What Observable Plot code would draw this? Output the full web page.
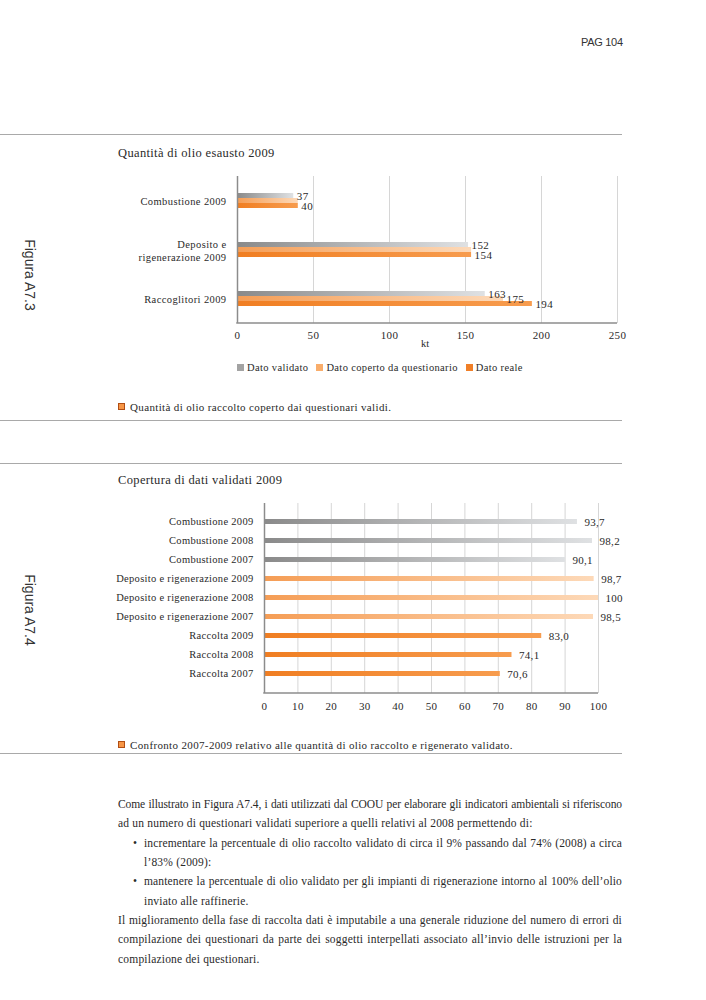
<!DOCTYPE html>
<html><head><meta charset="utf-8">
<script src="https://cdn.jsdelivr.net/npm/d3@7"></script>
<script src="https://cdn.jsdelivr.net/npm/@observablehq/plot@0.6"></script>
<style>
body{margin:0;background:#fff;}
#page{position:relative;width:706px;height:1000px;overflow:hidden;font-family:"Liberation Serif","Times New Roman",serif;color:#2a2a2a;}
.abs{position:absolute;white-space:nowrap;}
.hr{position:absolute;left:0;width:622px;height:0;border-top:1.5px solid #a9a9a9;}
.side{position:absolute;font-family:"Liberation Sans",Arial,sans-serif;font-size:14px;color:#333;transform:translate(-50%,-50%) rotate(90deg);white-space:nowrap;}
.title{font-size:12.5px;letter-spacing:0.35px;}
.cap{font-size:11px;letter-spacing:0.35px;}
.capsq{display:inline-block;width:5px;height:5px;background:#f79646;border:1px solid #b14e14;margin-right:5px;vertical-align:1px;}
.legend{font-size:10.5px;letter-spacing:0.35px;display:flex;gap:8px;align-items:center;}
.legend span.sq{display:inline-block;width:7px;height:7px;margin-right:3px;vertical-align:0px;}
.body{font-size:11.5px;line-height:19.4px;}
.line{position:absolute;white-space:nowrap;}
.chart{position:absolute;left:0;}
</style>
</head><body>
<svg width="0" height="0" style="position:absolute">
<defs>
<linearGradient id="gGrey" x1="0" x2="1" y1="0" y2="0"><stop offset="0" stop-color="#8a8a8a"/><stop offset="1" stop-color="#dfe1e3"/></linearGradient>
<linearGradient id="gLight" x1="0" x2="1" y1="0" y2="0"><stop offset="0" stop-color="#f59d55"/><stop offset="1" stop-color="#fdd9b8"/></linearGradient>
<linearGradient id="gDark" x1="0" x2="1" y1="0" y2="0"><stop offset="0" stop-color="#f07e22"/><stop offset="1" stop-color="#f79c4e"/></linearGradient>
</defs>
</svg>
<div id="page">
  <div class="abs" style="left:581px;top:36px;font-family:'Liberation Sans',Arial,sans-serif;font-size:11px;color:#333;letter-spacing:-0.3px;">PAG 104</div>
  <div class="hr" style="top:134px"></div>
  <div class="side" style="left:30px;top:275px">Figura A7.3</div>
  <div class="abs title" style="left:118px;top:146px">Quantità di olio esausto 2009</div>
  <div id="chart1" class="chart" style="top:165px"></div>
  <div class="abs" style="left:421px;top:338px;font-size:10.5px;">kt</div>
  <div id="legend1" class="abs legend" style="left:237px;top:362px"></div>
  <div class="abs cap" style="left:118px;top:401px"><span class="capsq"></span>Quantità di olio raccolto coperto dai questionari validi.</div>
  <div class="hr" style="top:420px"></div>

  <div class="hr" style="top:463px"></div>
  <div class="side" style="left:30px;top:610px">Figura A7.4</div>
  <div class="abs title" style="left:118px;top:473px">Copertura di dati validati 2009</div>
  <div id="chart2" class="chart" style="top:495px"></div>
  <div class="abs cap" style="left:118px;top:739px"><span class="capsq"></span>Confronto 2007-2009 relativo alle quantità di olio raccolto e rigenerato validato.</div>
  <div class="hr" style="top:753px"></div>

  <div id="bodytext" class="body"></div>
</div>
<script>
// ---------- Chart 1 data ----------
const categories1 = ["Combustione 2009", "Deposito e rigenerazione 2009", "Raccoglitori 2009"];
const categoryLabels1 = ["Combustione 2009", "Deposito e\nrigenerazione 2009", "Raccoglitori 2009"];
const series1 = ["Dato validato", "Dato coperto da questionario", "Dato reale"];
const datoValidato = [37, 152, 163];
const datoQuestionario = [40, 154, 175];
const datoReale = [40, 154, 194];
const ticks1 = [0, 50, 100, 150, 200, 250];
const legendSwatches1 = ["#a3a3a3", "#f9ad6b", "#f07f28"];

// ---------- Chart 2 data ----------
const categories2 = ["Combustione 2009", "Combustione 2008", "Combustione 2007",
  "Deposito e rigenerazione 2009", "Deposito e rigenerazione 2008", "Deposito e rigenerazione 2007",
  "Raccolta 2009", "Raccolta 2008", "Raccolta 2007"];
const groups2 = ["Combustione", "Combustione", "Combustione", "Deposito", "Deposito", "Deposito", "Raccolta", "Raccolta", "Raccolta"];
const values2 = [93.7, 98.2, 90.1, 98.7, 100, 98.5, 83.0, 74.1, 70.6];
const valueLabels2 = ["93,7", "98,2", "90,1", "98,7", "100", "98,5", "83,0", "74,1", "70,6"];
const ticks2 = [0, 10, 20, 30, 40, 50, 60, 70, 80, 90, 100];

const gradients = ["url(#gGrey)", "url(#gLight)", "url(#gDark)"];

// ---------- Chart 1 ----------
const seriesValues1 = [datoValidato, datoQuestionario, datoReale];
const data1 = categories1.flatMap((c, i) => series1.map((s, j) => ({category: c, series: s, value: seriesValues1[j][i]})));
const labels1 = data1.filter(d => !(d.series === series1[1] && d.value === datoReale[categories1.indexOf(d.category)]));
const labelMap1 = new Map(categories1.map((c, i) => [c, categoryLabels1[i]]));

const H1 = 190, MB1 = 32;
const plot1 = Plot.plot({
  width: 706, height: H1,
  marginLeft: 237, marginRight: 89, marginTop: 10, marginBottom: MB1,
  style: {fontFamily: "'Liberation Serif', 'Times New Roman', serif", fontSize: "10.5px", color: "#2a2a2a", background: "transparent", letterSpacing: "0.4px"},
  x: {domain: [0, 250]},
  y: {domain: series1, axis: null, paddingInner: 0, paddingOuter: 2.85},
  fy: {domain: categories1, padding: 0},
  color: {domain: series1, range: gradients},
  marks: [
    Plot.gridX(ticks1, {stroke: "#d6d6d6", strokeOpacity: 1}),
    Plot.barX(data1, {x: "value", y: "series", fy: "category", fill: "series"}),
    Plot.text(labels1, {x: "value", y: "series", fy: "category", text: d => String(d.value), textAnchor: "start", dx: 3, fill: "#2a2a2a", fontSize: 11}),
    Plot.ruleX([0], {stroke: "#8c8c8c", strokeWidth: 1.5}),
    Plot.axisX({ticks: ticks1, tickSize: 0, tickPadding: 8, label: null, fontSize: 11}),
    Plot.axisFy({anchor: "left", tickSize: 0, tickPadding: 11, label: null, tickFormat: d => labelMap1.get(d), lineHeight: 1.25})
  ]
});
{
  const x = plot1.scale("x");
  d3.select(plot1).append("line")
    .attr("x1", x.apply(0) - 0.75).attr("x2", x.apply(250))
    .attr("y1", H1 - MB1).attr("y2", H1 - MB1)
    .attr("stroke", "#8c8c8c").attr("stroke-width", 1.5);
}
document.getElementById("chart1").append(plot1);

// legend 1
const lg = d3.select("#legend1");
series1.forEach((s, i) => {
  const item = lg.append("div");
  item.append("span").attr("class", "sq").style("background", legendSwatches1[i]);
  item.append("span").text(s);
});

// ---------- Chart 2 ----------
const data2 = categories2.map((c, i) => ({category: c, group: groups2[i], value: values2[i], label: valueLabels2[i]}));
const H2 = 223, MB2 = 25;
const plot2 = Plot.plot({
  width: 706, height: H2,
  marginLeft: 264, marginRight: 108, marginTop: 8, marginBottom: MB2,
  style: {fontFamily: "'Liberation Serif', 'Times New Roman', serif", fontSize: "10.5px", color: "#2a2a2a", background: "transparent", letterSpacing: "0.3px"},
  x: {domain: [0, 100]},
  y: {domain: categories2, padding: 0.72},
  color: {domain: ["Combustione", "Deposito", "Raccolta"], range: gradients},
  marks: [
    Plot.gridX(ticks2, {stroke: "#d6d6d6", strokeOpacity: 1}),
    Plot.barX(data2, {x: "value", y: "category", fill: "group"}),
    Plot.text(data2, {x: "value", y: "category", text: "label", textAnchor: "start", dx: 7, fill: "#2a2a2a", fontSize: 11}),
    Plot.ruleX([0], {stroke: "#8c8c8c", strokeWidth: 1.5}),
    Plot.axisX({ticks: ticks2, tickSize: 0, tickPadding: 9, label: null, fontSize: 11}),
    Plot.axisY({tickSize: 0, tickPadding: 11, label: null})
  ]
});
{
  const x = plot2.scale("x");
  d3.select(plot2).append("line")
    .attr("x1", x.apply(0) - 0.75).attr("x2", x.apply(100))
    .attr("y1", H2 - MB2).attr("y2", H2 - MB2)
    .attr("stroke", "#8c8c8c").attr("stroke-width", 1.5);
}
document.getElementById("chart2").append(plot2);

// ---------- Body text ----------
const bodyLines = [
  {x: 118, text: "Come illustrato in Figura A7.4, i dati utilizzati dal COOU per elaborare gli indicatori ambientali si riferiscono", justify: true},
  {x: 118, text: "ad un numero di questionari validati superiore a quelli relativi al 2008 permettendo di:", justify: false},
  {x: 144, text: "incrementare la percentuale di olio raccolto validato di circa il 9% passando dal 74% (2008) a circa", justify: true, bullet: true},
  {x: 144, text: "l’83% (2009):", justify: false},
  {x: 144, text: "mantenere la percentuale di olio validato per gli impianti di rigenerazione intorno al 100% dell’olio", justify: true, bullet: true},
  {x: 144, text: "inviato alle raffinerie.", justify: false},
  {x: 118, text: "Il miglioramento della fase di raccolta dati è imputabile a una generale riduzione del numero di errori di", justify: true},
  {x: 118, text: "compilazione dei questionari da parte dei soggetti interpellati associato all’invio delle istruzioni per la", justify: true},
  {x: 118, text: "compilazione dei questionari.", justify: false}
];
const bt = document.getElementById("bodytext");
const baseLS = 0.2;
bodyLines.forEach((l, i) => {
  const top = 795 + i * 19.35;
  if (l.bullet) {
    const b = document.createElement("div");
    b.className = "line"; b.style.left = "133px"; b.style.top = top + "px";
    b.textContent = "•"; bt.append(b);
  }
  const d = document.createElement("div");
  d.className = "line"; d.style.left = l.x + "px"; d.style.top = top + "px";
  d.style.letterSpacing = baseLS + "px";
  d.textContent = l.text;
  bt.append(d);
  if (l.justify) {
    const target = 622 - l.x;
    const w = d.getBoundingClientRect().width;
    const spaces = (l.text.match(/ /g) || []).length;
    let ws = (target - w) / spaces;
    if (ws < 0.5) {
      const chars = l.text.length;
      const need = target - w - 0.5 * spaces;
      d.style.letterSpacing = (baseLS + need / chars) + "px";
      ws = 0.5;
    }
    d.style.wordSpacing = ws + "px";
  }
});
</script>
</body></html>
